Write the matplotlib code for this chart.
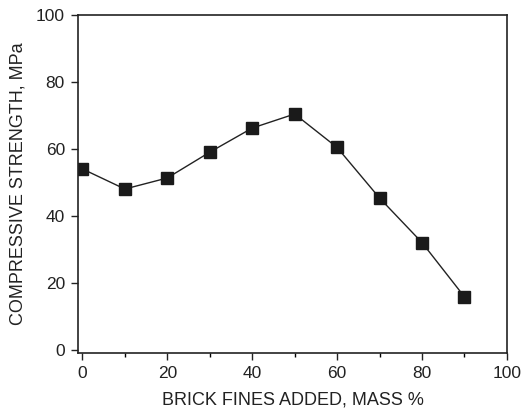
import matplotlib
matplotlib.use("Agg")
import matplotlib.pyplot as plt
from matplotlib.ticker import MultipleLocator

plt.rcParams['font.family'] = ['Liberation Sans', 'DejaVu Sans']

brick_fines = [0, 10, 20, 30, 40, 50, 60, 70, 80, 90]
strength = [54.0, 48.0, 51.3, 59.0, 66.2, 70.4, 60.4, 45.3, 32.0, 15.8]

fig = plt.figure(figsize=(5.21, 4.13), dpi=100)
ax = fig.add_axes([0.150, 0.145, 0.823, 0.819])
ax.plot(brick_fines, strength, color='#222222', lw=1.0, marker='s',
        markersize=8.5, markerfacecolor='#1a1a1a', markeredgecolor='#1a1a1a')
ax.set_xlim(-1, 100)
ax.set_ylim(-1, 100)
ax.xaxis.set_major_locator(MultipleLocator(20))
ax.xaxis.set_minor_locator(MultipleLocator(10))
ax.yaxis.set_major_locator(MultipleLocator(20))
ax.tick_params(axis='both', which='major', direction='out', length=5, width=1,
               labelsize=12.5, colors='#222222', pad=4.5)
ax.tick_params(axis='x', which='minor', direction='out', length=3, width=1)
for s in ax.spines.values():
    s.set_linewidth(1.2)
    s.set_color('#222222')
ax.set_xlabel('BRICK FINES ADDED, MASS %', fontsize=13, color='#222222', labelpad=7)
ax.set_ylabel('COMPRESSIVE STRENGTH, MPa', fontsize=13, color='#222222', labelpad=7)
fig.savefig('out.png', dpi=100)
